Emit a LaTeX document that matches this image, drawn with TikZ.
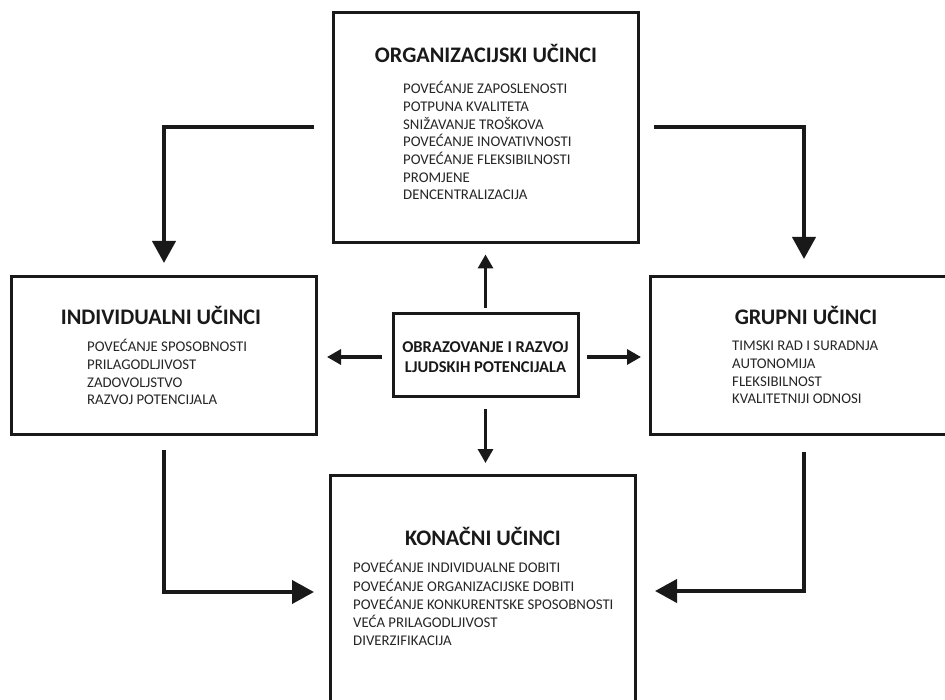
\documentclass[tikz,border=0pt]{standalone}
\usepackage{fontspec}
\setmainfont{Carlito}
\usetikzlibrary{arrows.meta,calc}
\begin{document}
\begin{tikzpicture}[x=1pt,y=-1pt,
  box/.style={draw=black!90, line width=3pt, minimum width=305pt, inner sep=0pt, outer sep=0pt},
  ttl/.style={font=\bfseries\fontsize{22.2}{26}\selectfont, anchor=base, inner sep=0pt, text=black!90},
  itm/.style={font=\fontsize{14.8}{17}\selectfont, anchor=base west, inner sep=0pt, text=black!85},
  bigarr/.style={draw=black!90, line width=4pt, -{Triangle[length=22pt,width=23pt]}},
  smallarr/.style={draw=black!90, line width=3.2pt, -{Triangle[length=14pt,width=15pt]}}
]
\useasboundingbox (0,0) rectangle (945,700);
\fill[white] (0,0) rectangle (945,700);
\clip (0,0) rectangle (945,700);

% boxes
\node[box, minimum height=230pt] (org) at (485.5,127.5) {};
\node[box, minimum height=157pt] (ind) at (163.5,355.5) {};
\node[box, minimum height=157pt] (grp) at (802.5,355.5) {};
\node[box, minimum height=260pt] (kon) at (482.5,605) {};
\node[box, minimum width=185pt, minimum height=83pt] (cen) at (485.5,355.5) {};

% center text
\node[align=center, inner sep=0pt, font=\bfseries\fontsize{16.5}{20}\selectfont, text=black!90] (centxt) at (485.5,357)
  {OBRAZOVANJE I RAZVOJ\\LJUDSKIH POTENCIJALA};

% titles
\node[ttl] (orgt) at (486,62.1) {ORGANIZACIJSKI UČINCI};
\node[ttl] (indt) at (161,324.1) {INDIVIDUALNI UČINCI};
\node[ttl] (grpt) at (806,324.1) {GRUPNI UČINCI};
\node[ttl] (kont) at (483,545.1) {KONAČNI UČINCI};

% items
\foreach \t [count=\i] in {POVEĆANJE ZAPOSLENOSTI, POTPUNA KVALITETA, SNIŽAVANJE TROŠKOVA,
  POVEĆANJE INOVATIVNOSTI, POVEĆANJE FLEKSIBILNOSTI, PROMJENE, DENCENTRALIZACIJA}
  \node[itm] (o\i) at (403,{93.8+17.7*(\i-1)}) {\t};
\foreach \t [count=\i] in {POVEĆANJE SPOSOBNOSTI, PRILAGODLJIVOST, ZADOVOLJSTVO, RAZVOJ POTENCIJALA}
  \node[itm] (i\i) at (87,{351.8+17.7*(\i-1)}) {\t};
\foreach \t [count=\i] in {TIMSKI RAD I SURADNJA, AUTONOMIJA, FLEKSIBILNOST, KVALITETNIJI ODNOSI}
  \node[itm] (g\i) at (732,{350.8+17.7*(\i-1)}) {\t};
\foreach \t [count=\i] in {POVEĆANJE INDIVIDUALNE DOBITI, POVEĆANJE ORGANIZACIJSKE DOBITI,
  POVEĆANJE KONKURENTSKE SPOSOBNOSTI, VEĆA PRILAGODLJIVOST, DIVERZIFIKACIJA}
  \node[itm] (k\i) at (353,{572.8+18.2*(\i-1)}) {\t};

% center arrows
\draw[smallarr] ($(cen.north)+(0,-6)$) -- ($(org.south)+(0,12)$);
\draw[smallarr] ($(cen.south)+(0,12)$) -- ($(cen.south |- kon.north)+(0,-12)$);
\draw[smallarr] ($(cen.west)+(-11,1.5)$) -- ($(ind.east)+(11,1.5)$);
\draw[smallarr] ($(cen.east)+(9,1.5)$) -- ($(grp.west)+(-9,1.5)$);

% corner arrows
\coordinate (tl1) at (314,127); \coordinate (tl2) at (164,127); \coordinate (tl3) at (164,263);
\coordinate (tr1) at (654,127); \coordinate (tr2) at (804,127); \coordinate (tr3) at (804,259);
\coordinate (bl1) at (164,450); \coordinate (bl2) at (164,592); \coordinate (bl3) at (314,592);
\coordinate (br1) at (804,452); \coordinate (br2) at (804,591); \coordinate (br3) at (655,591);
\draw[bigarr] (tl1) -- (tl2) -- (tl3);
\draw[bigarr] (tr1) -- (tr2) -- (tr3);
\draw[bigarr] (bl1) -- (bl2) -- (bl3);
\draw[bigarr] (br1) -- (br2) -- (br3);
\end{tikzpicture}
\end{document}
